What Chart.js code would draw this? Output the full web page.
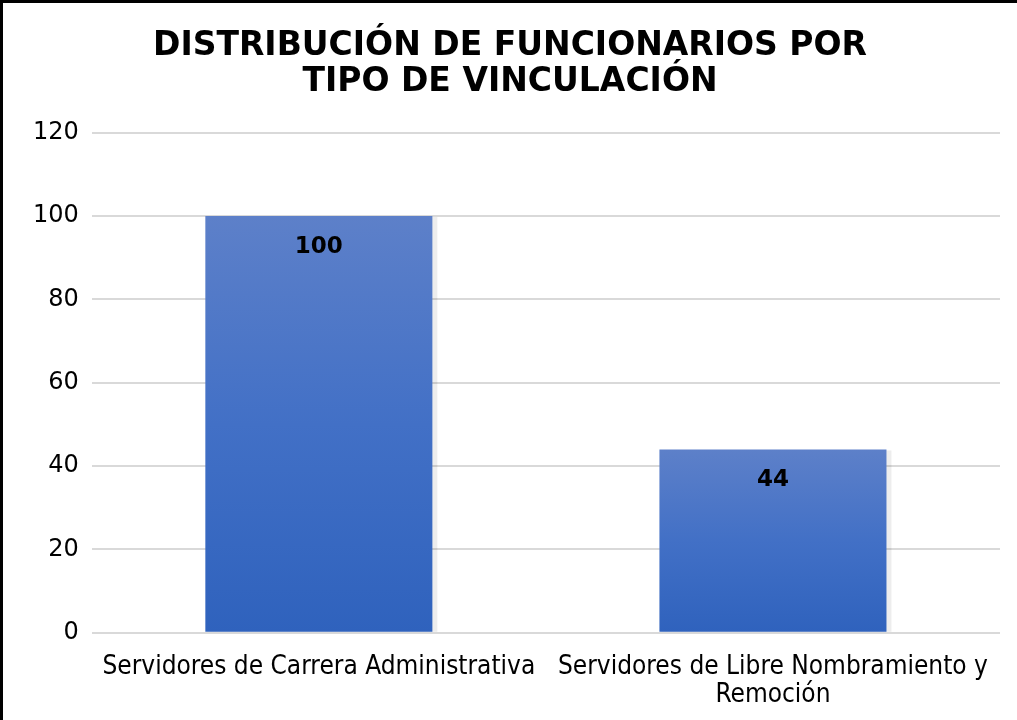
<!DOCTYPE html>
<html>
<head>
<meta charset="utf-8">
<script src="https://cdn.jsdelivr.net/npm/chart.js@4.4.1/dist/chart.umd.min.js"></script>
<style>
  html, body { margin: 0; padding: 0; background: #fff; }
  #wrap { width: 1017px; height: 720px; position: relative; }
</style>
</head>
<body>
<div id="wrap"><canvas id="chart" width="1017" height="720"></canvas></div>
<script>
// ── Data ──
const categories = [
  'Servidores de Carrera Administrativa',
  ['Servidores de Libre Nombramiento y', 'Remoción'],
];
const funcionarios = [100, 44];
const yTicks = [0, 20, 40, 60, 80, 100, 120];
const titleLines = ['DISTRIBUCIÓN DE FUNCIONARIOS POR', 'TIPO DE VINCULACIÓN'];

// ── Plugins ──

// outer frame (only top and left edges are visible in the picture)
const framePlugin = {
  id: 'frame',
  afterDraw(chart) {
    const ctx = chart.ctx;
    ctx.save();
    ctx.fillStyle = '#000';
    ctx.fillRect(0, 0, chart.width, 3);
    ctx.fillRect(0, 0, 3, chart.height);
    ctx.restore();
  },
};

// value labels inside the top of each bar
const valueLabels = {
  id: 'valueLabels',
  afterDatasetsDraw(chart) {
    const ctx = chart.ctx;
    const meta = chart.getDatasetMeta(0);
    ctx.save();
    ctx.font = 'bold 23px "DejaVu Sans", Verdana, sans-serif';
    ctx.fillStyle = '#000';
    ctx.textAlign = 'center';
    ctx.textBaseline = 'middle';
    meta.data.forEach((bar, i) => {
      ctx.fillText(String(funcionarios[i]), bar.x, bar.y + 31);
    });
    ctx.restore();
  },
};

// light shadow along the right edge of the bars
const barShadow = {
  id: 'barShadow',
  beforeDatasetsDraw(chart) {
    const ctx = chart.ctx;
    const meta = chart.getDatasetMeta(0);
    ctx.save();
    meta.data.forEach(bar => {
      const w = bar.width;
      const left = bar.x - w / 2;
      ctx.fillStyle = 'rgba(0,0,0,0.07)';
      ctx.fillRect(left + 2, bar.y + 1, w + 3, bar.base - bar.y - 1);
    });
    ctx.restore();
  },
};

// vertical gradient per bar, lighter at the top of each bar
function barGradient(context) {
  const chart = context.chart;
  const y = chart.scales && chart.scales.y;
  if (!chart.chartArea || !y) return '#4472c4';
  const top = y.getPixelForValue(funcionarios[context.dataIndex]);
  const bottom = y.getPixelForValue(0);
  if (!isFinite(top) || !isFinite(bottom) || top === bottom) return '#4472c4';
  const g = chart.ctx.createLinearGradient(0, top, 0, bottom);
  g.addColorStop(0, '#5d80c9');
  g.addColorStop(0.5, '#4270c6');
  g.addColorStop(1, '#2f62bd');
  return g;
}

new Chart(document.getElementById('chart'), {
  type: 'bar',
  data: {
    labels: categories,
    datasets: [{
      data: funcionarios,
      backgroundColor: barGradient,
      borderWidth: 0,
      categoryPercentage: 0.5,
      barPercentage: 1.0,
    }],
  },
  options: {
    responsive: false,
    animation: false,
    layout: { padding: { left: 20, right: 17, top: 17, bottom: -1 } },
    plugins: {
      legend: { display: false },
      tooltip: { enabled: false },
      title: {
        display: true,
        text: titleLines,
        color: '#000',
        font: { family: '"DejaVu Sans", Verdana, sans-serif', size: 33, weight: 'bold', lineHeight: 1.07 },
        padding: { top: 12, bottom: 33 },
      },
    },
    scales: {
      x: {
        grid: { display: false },
        border: { display: false },
        ticks: {
          color: '#000',
          font: { family: '"DejaVu Sans Condensed", "DejaVu Sans", sans-serif', size: 26, lineHeight: 1.08 },
          maxRotation: 0,
          autoSkip: false,
          padding: 12,
        },
      },
      y: {
        min: 0,
        max: 120,
        afterBuildTicks(axis) { axis.ticks = yTicks.map(v => ({ value: v })); },
        grid: { color: '#d9d9d9', lineWidth: 2, drawTicks: false },
        border: { display: false },
        ticks: {
          color: '#000',
          font: { family: '"DejaVu Sans", Verdana, sans-serif', size: 24 },
          padding: 13,
        },
      },
    },
  },
  plugins: [barShadow, valueLabels, framePlugin],
});
</script>
</body>
</html>
